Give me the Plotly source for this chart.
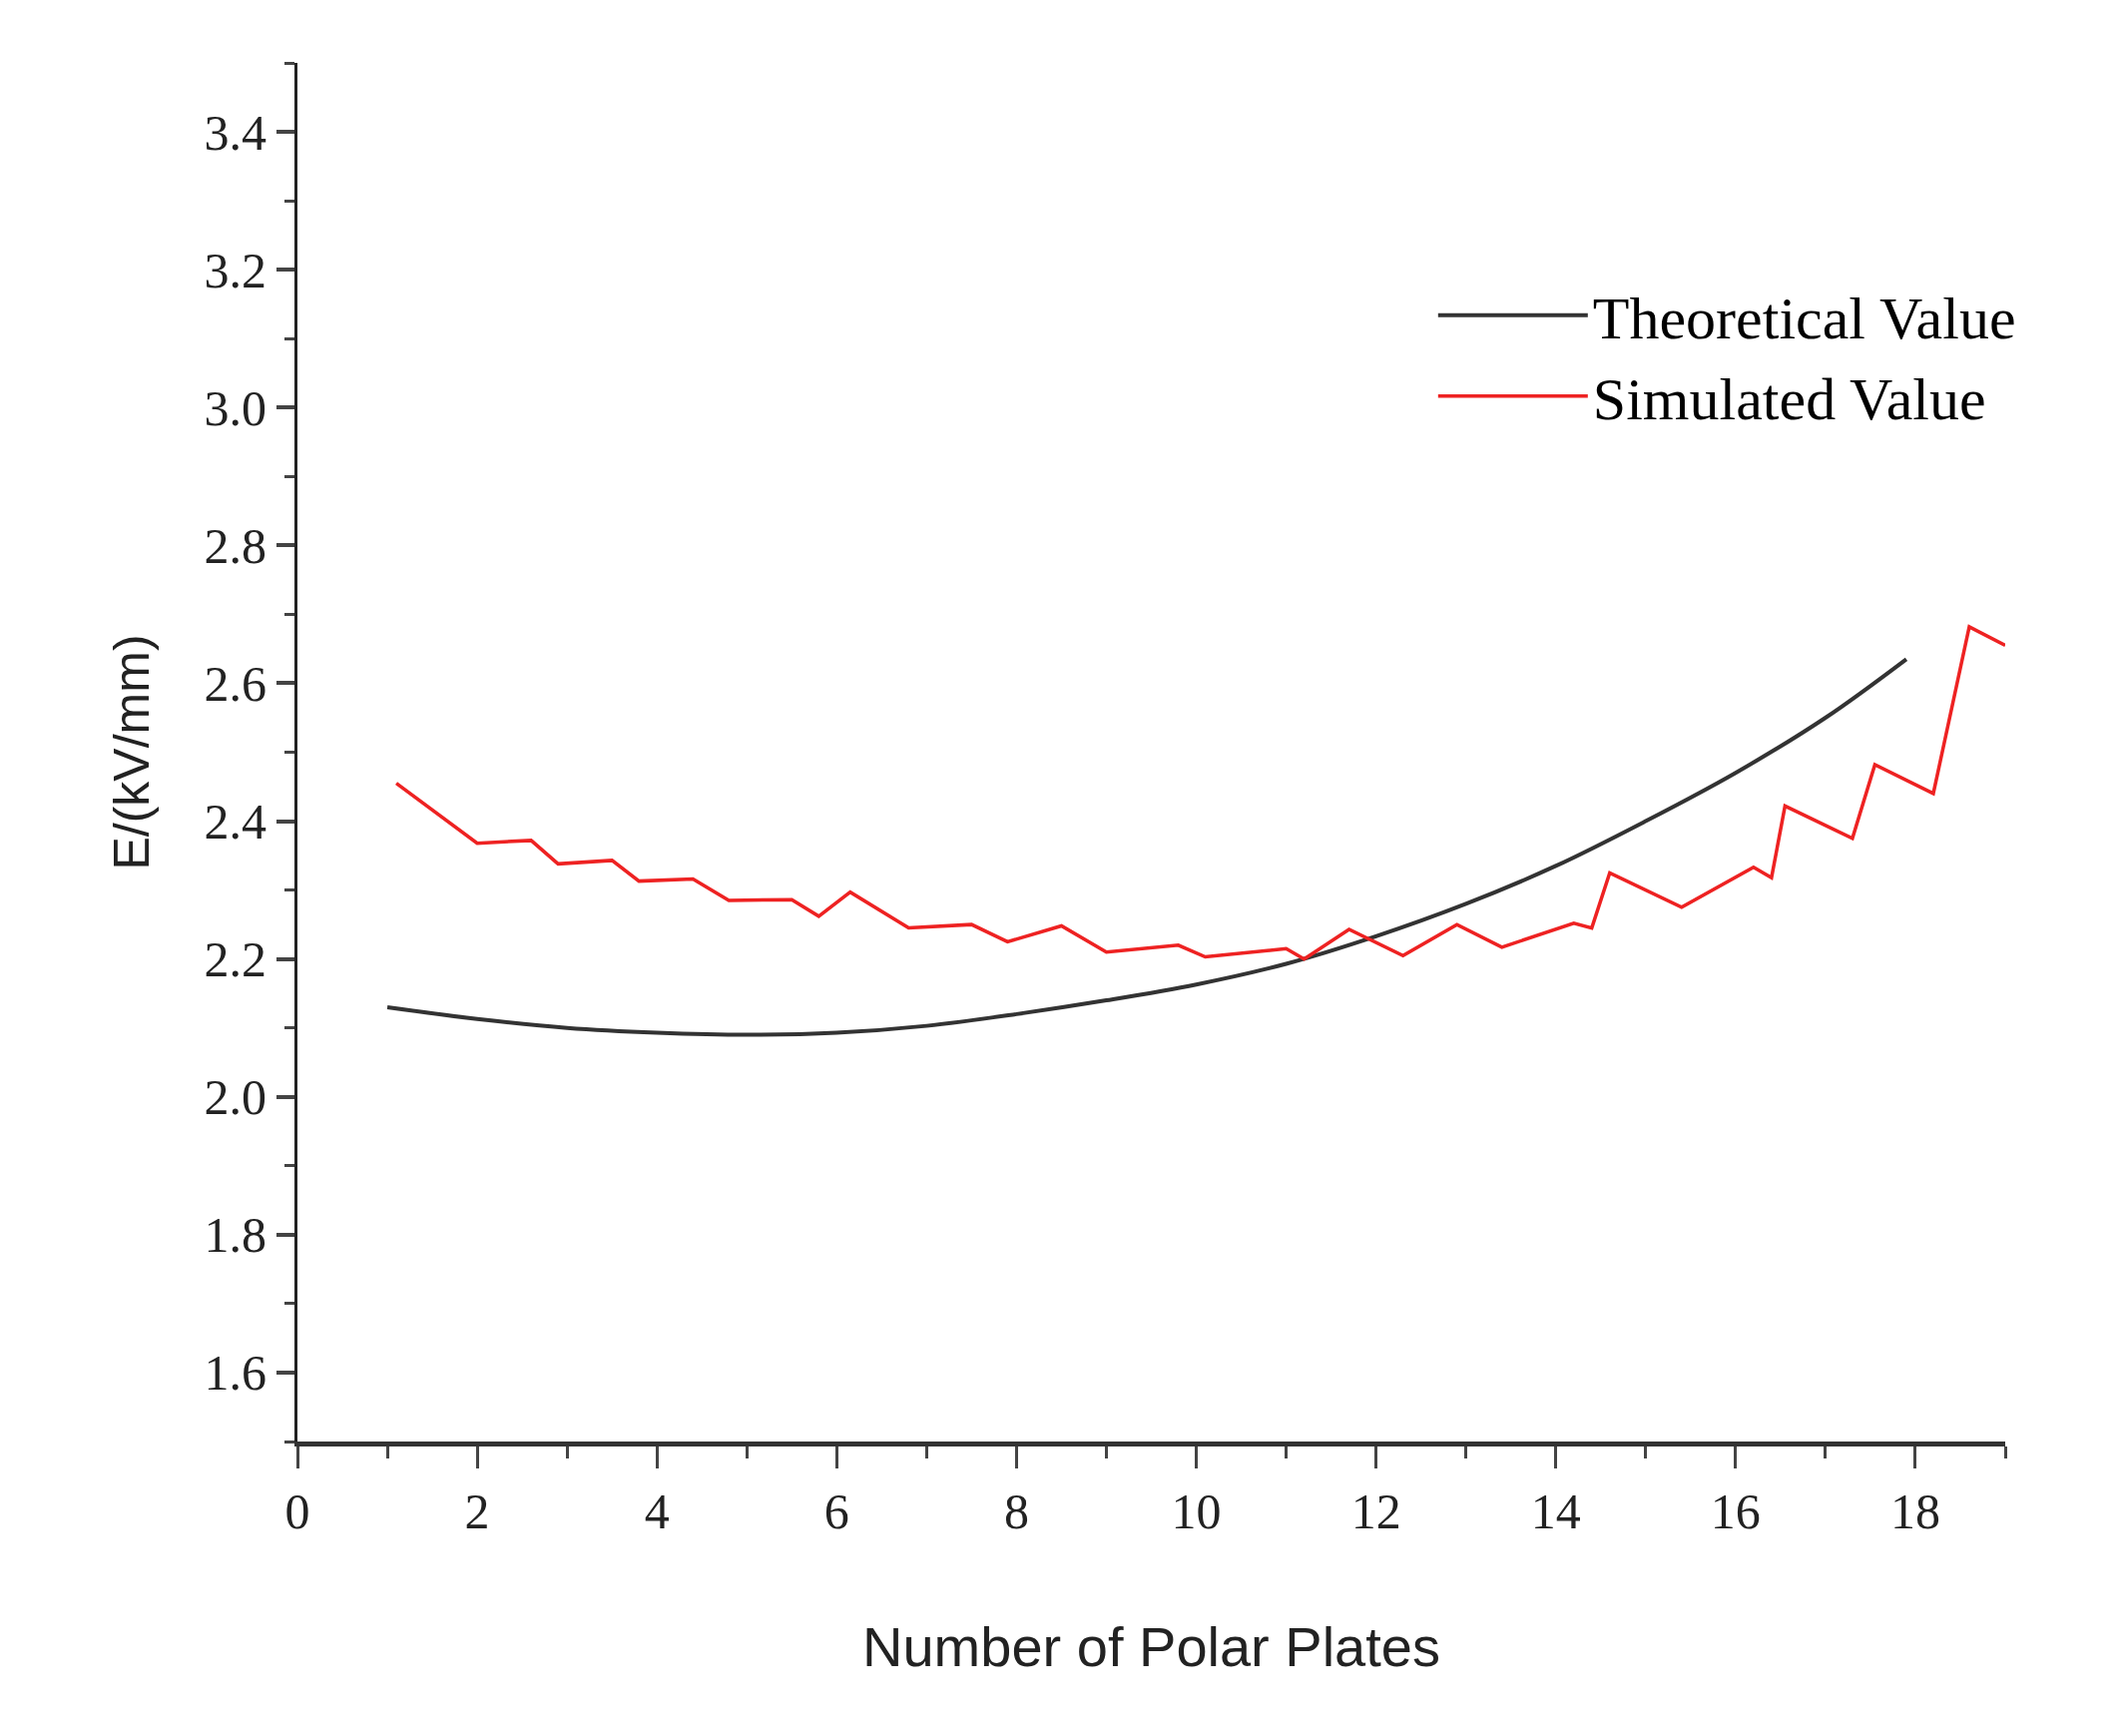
import plotly.graph_objects as go

# theoretical curve
theo_x = [1, 2, 3, 4, 5, 6, 7, 8, 9, 10, 11, 12, 13, 14, 15, 16, 17, 17.9]
theo_y = [2.13, 2.113, 2.10, 2.093, 2.09, 2.093, 2.103, 2.12, 2.14, 2.163, 2.193,
          2.233, 2.28, 2.335, 2.40, 2.47, 2.55, 2.635]

# simulated values
sim_x = [1.1, 2.0, 2.6, 2.9, 3.5, 3.8, 4.4, 4.8, 5.5, 5.8, 6.15, 6.8, 7.5, 7.9, 8.5,
         9.0, 9.8, 10.1, 11.0, 11.2, 11.7, 12.3, 12.9, 13.4, 14.2, 14.4, 14.6, 15.4,
         16.2, 16.4, 16.55, 17.3, 17.55, 18.2, 18.6, 19.0]
sim_y = [2.455, 2.368, 2.372, 2.338, 2.343, 2.313, 2.316, 2.285, 2.286, 2.262, 2.297,
         2.245, 2.25, 2.225, 2.248, 2.21, 2.22, 2.203, 2.215, 2.2, 2.243, 2.205, 2.25,
         2.217, 2.252, 2.245, 2.325, 2.275, 2.333, 2.318, 2.422, 2.375, 2.482, 2.44,
         2.682, 2.655]

serif = "Liberation Serif"
sans = "Liberation Sans"

fig = go.Figure()
fig.add_trace(go.Scatter(x=theo_x, y=theo_y, mode="lines", name="Theoretical Value",
                         line=dict(color="#333333", width=4, shape="spline")))
fig.add_trace(go.Scatter(x=sim_x, y=sim_y, mode="lines", name="Simulated Value",
                         line=dict(color="#ee2222", width=3.5)))

fig.update_layout(
    width=2125, height=1739,
    plot_bgcolor="white", paper_bgcolor="white",
    margin=dict(l=290, r=124, t=55, b=303),
    legend=dict(x=0.665, y=0.85, xanchor="left", yanchor="top",
                font=dict(family=serif, size=60, color="black"),
                bgcolor="rgba(0,0,0,0)", itemwidth=150, tracegroupgap=40),
    xaxis=dict(range=[0, 19], tick0=0, dtick=2, ticks="outside", ticklen=22, tickwidth=3,
               minor=dict(dtick=1, ticks="outside", ticklen=12, tickwidth=3),
               showgrid=False, zeroline=False, showline=True, linewidth=5, linecolor="#333",
               tickfont=dict(family=serif, size=50, color="#222"),
               title=dict(text="Number of Polar Plates", standoff=90,
                          font=dict(family=sans, size=56, color="#222"))),
    yaxis=dict(range=[1.5, 3.5], tick0=1.6, dtick=0.2, tickformat=".1f",
               ticks="outside", ticklen=18, tickwidth=4,
               minor=dict(dtick=0.1, ticks="outside", ticklen=10, tickwidth=3),
               showgrid=False, zeroline=False, showline=True, linewidth=3, linecolor="#222",
               tickfont=dict(family=serif, size=50, color="#222"),
               title=dict(text="E/(kV/mm)", standoff=40,
                          font=dict(family=sans, size=50, color="#222"))),
)

fig.write_html("out.html")
